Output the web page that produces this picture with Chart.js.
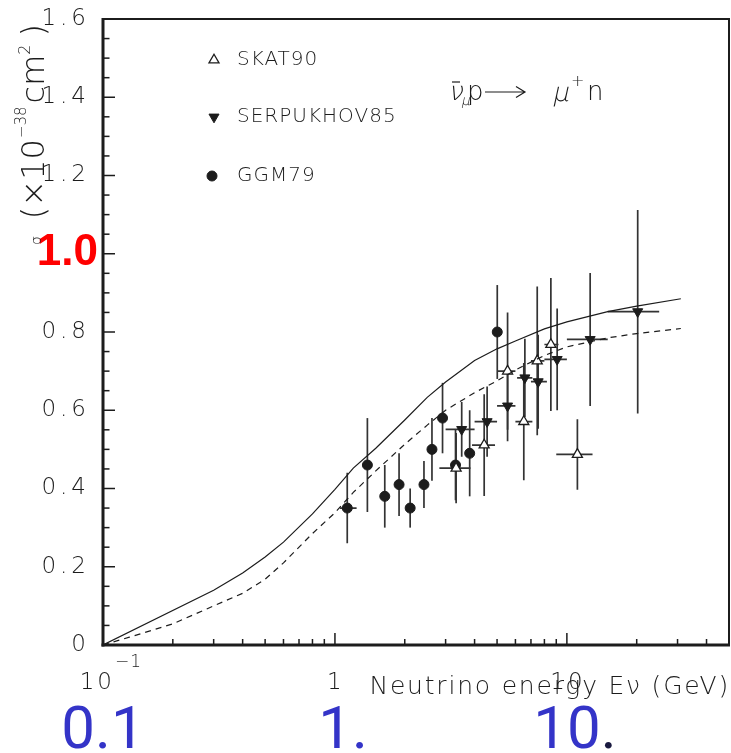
<!DOCTYPE html>
<html>
<head>
<meta charset="utf-8">
<script src="https://cdn.jsdelivr.net/npm/chart.js@4.4.0/dist/chart.umd.min.js"></script>
<style>
  html, body { margin: 0; padding: 0; background: #ffffff; }
  canvas { display: block; }
</style>
</head>
<body>
<canvas id="chart" width="731" height="753"></canvas>
<script>
// Theory curves: cross section vs neutrino energy
const solidE     = [0.1, 0.3, 0.4, 0.5, 0.6, 0.8, 1.0, 1.2, 1.5, 2.0, 2.5, 3.0, 4.0, 5.0, 6.0, 8.0, 10, 15, 20, 31];
const solidSigma = [0.0, 0.14, 0.184, 0.225, 0.263, 0.335, 0.398, 0.452, 0.503, 0.575, 0.633, 0.672, 0.727, 0.757, 0.777, 0.808, 0.826, 0.852, 0.866, 0.885];
const dashedE     = [0.1, 0.13, 0.2, 0.3, 0.4, 0.5, 0.6, 0.8, 1.0, 1.2, 1.5, 2.0, 2.5, 3.0, 4.0, 5.0, 6.0, 8.0, 10, 15, 20, 31];
const dashedSigma = [0.0, 0.02, 0.054, 0.10, 0.132, 0.168, 0.21, 0.285, 0.338, 0.39, 0.445, 0.513, 0.562, 0.60, 0.645, 0.675, 0.703, 0.74, 0.762, 0.785, 0.796, 0.809];

// SKAT90
const skatE     = [3.33, 4.40, 5.55, 6.52, 7.45, 8.53, 11.1];
const skatSigma = [0.452, 0.511, 0.70, 0.571, 0.726, 0.768, 0.487];
const skatErr   = [0.09, 0.13, 0.15, 0.15, 0.19, 0.17, 0.09];
const skatELow  = [2.82, 3.9, 5.0, 6.0, 7.0, 8.0, 9.0];
const skatEHigh = [3.84, 4.9, 6.0, 7.1, 8.0, 9.2, 12.9];

// SERPUKHOV85
const serpE     = [3.52, 4.53, 5.55, 6.59, 7.52, 9.08, 12.6, 20.2];
const serpSigma = [0.551, 0.571, 0.611, 0.683, 0.673, 0.73, 0.781, 0.852];
const serpErr   = [0.07, 0.09, 0.09, 0.10, 0.12, 0.13, 0.17, 0.26];
const serpELow  = [3.0, 4.0, 5.0, 6.1, 7.0, 8.0, 10, 15];
const serpEHigh = [4.0, 5.0, 6.0, 7.1, 8.2, 10, 15, 25];

// GGM79
const ggmE     = [1.13, 1.38, 1.64, 1.89, 2.11, 2.42, 2.62, 2.91, 3.31, 3.81, 5.01];
const ggmSigma = [0.35, 0.46, 0.38, 0.41, 0.35, 0.41, 0.50, 0.58, 0.46, 0.49, 0.80];
const ggmErr   = [0.09, 0.12, 0.08, 0.08, 0.05, 0.06, 0.08, 0.09, 0.09, 0.11, 0.12];
const ggmELow  = [1.05, null, null, null, null, null, null, null, null, null, null];
const ggmEHigh = [1.24, null, null, null, null, null, null, null, null, null, null];

// Axis ranges, ticks and labels
const X_MIN = 0.1, X_MAX = 50, Y_MIN = 0, Y_MAX = 1.6;
const yTickValues = [0, 0.2, 0.4, 0.6, 0.8, 1.0, 1.2, 1.4, 1.6];
const yTickLabels = ['0', '0.2', '0.4', '0.6', '0.8', '1.0', '1.2', '1.4', '1.6'];
const yHighlightLabel = '1.0';
const xDecades = [0.1, 1, 10];
const xTickLabels = [['10', '\u22121'], ['1', ''], ['10', '']];
const xDecimalLabels = [['0.1', ''], ['1.', ''], ['10', '.']];
const legendNames = ['SKAT90', 'SERPUKHOV85', 'GGM79'];

const LIGHT = '"DejaVu Sans", sans-serif';
const INK = '#1c1c1c';

function pts(xs, ys) { return xs.map((x, i) => ({ x: x, y: ys[i] })); }

const errorSets = [
  { e: skatE, s: skatSigma, err: skatErr, lo: skatELow, hi: skatEHigh },
  { e: serpE, s: serpSigma, err: serpErr, lo: serpELow, hi: serpEHigh },
  { e: ggmE,  s: ggmSigma,  err: ggmErr,  lo: ggmELow,  hi: ggmEHigh }
];

const errorBars = {
  id: 'errorBars',
  beforeDatasetsDraw(chart) {
    const { ctx, scales: { x, y } } = chart;
    ctx.save();
    ctx.strokeStyle = '#333333';
    ctx.lineWidth = 1.7;
    errorSets.forEach(set => {
      set.e.forEach((e, i) => {
        const px = x.getPixelForValue(e);
        const py = y.getPixelForValue(set.s[i]);
        ctx.beginPath();
        ctx.moveTo(px, y.getPixelForValue(set.s[i] - set.err[i]));
        ctx.lineTo(px, y.getPixelForValue(set.s[i] + set.err[i]));
        if (set.lo[i] != null) {
          ctx.moveTo(x.getPixelForValue(set.lo[i]), py);
          ctx.lineTo(x.getPixelForValue(set.hi[i]), py);
        }
        ctx.stroke();
      });
    });
    ctx.restore();
  }
};

function spaced(ctx, px) { ctx.letterSpacing = px + 'px'; }

// Slanted text for the reaction label
function slanted(ctx, txt, px, py) {
  ctx.save();
  ctx.translate(px, py);
  ctx.transform(1, 0, -0.22, 1, 0, 0);
  ctx.fillText(txt, 0, 0);
  ctx.restore();
}

const texts = {
  id: 'texts',
  afterDraw(chart) {
    const { ctx, scales: { x, y } } = chart;
    ctx.save();
    ctx.strokeStyle = INK;
    ctx.fillStyle = INK;

    // y tick labels
    ctx.textBaseline = 'middle';
    yTickValues.forEach((v, i) => {
      const py = y.getPixelForValue(v);
      if (yTickLabels[i] === yHighlightLabel) {
        ctx.save();
        ctx.font = 'bold 44px "Liberation Sans", Arial, sans-serif';
        ctx.fillStyle = '#ff0000';
        ctx.textAlign = 'right';
        spaced(ctx, 0);
        ctx.fillText(yTickLabels[i], 98, py - 1);
        ctx.restore();
      } else {
        ctx.font = '200 23px ' + LIGHT;
        ctx.textAlign = 'right';
        spaced(ctx, 4);
        ctx.fillText(yTickLabels[i], 90, py);
      }
    });

    // x tick labels
    ctx.textBaseline = 'alphabetic';
    xDecades.forEach((d, i) => {
      const px = x.getPixelForValue(d);
      const [main, sup] = xTickLabels[i];
      ctx.font = '200 23px ' + LIGHT;
      spaced(ctx, 3);
      if (sup) {
        ctx.textAlign = 'right';
        ctx.fillText(main, px + 12, 689);
        ctx.textAlign = 'left';
        ctx.font = '200 17px ' + LIGHT;
        spaced(ctx, 1);
        ctx.fillText(sup, px + 12, 667);
      } else {
        ctx.textAlign = 'center';
        ctx.fillText(main, px + 1, 689);
      }
    });

    // x axis title
    ctx.font = '200 25px ' + LIGHT;
    ctx.textAlign = 'right';
    spaced(ctx, 1.8);
    ctx.fillText('Neutrino energy E\u03BD (GeV)', 730, 694);

    // decimal axis labels
    ctx.font = '60px Roboto, "Liberation Sans", sans-serif';
    spaced(ctx, 0);
    xDecades.forEach((d, i) => {
      const px = x.getPixelForValue(d);
      const [main, tail] = xDecimalLabels[i];
      const wMain = ctx.measureText(main).width;
      const wTail = tail ? ctx.measureText(tail).width : 0;
      const left = px - (wMain + wTail) / 2 + (i === 0 ? 0 : 8);
      ctx.textAlign = 'left';
      ctx.fillStyle = '#3434c8';
      ctx.fillText(main, left, 748);
      if (tail) {
        ctx.fillStyle = '#1a1a40';
        ctx.fillText(tail, left + wMain, 748);
      }
    });
    ctx.fillStyle = INK;

    // y axis title (rotated)
    ctx.save();
    ctx.translate(44, 0);
    ctx.rotate(-Math.PI / 2);
    ctx.textAlign = 'left';
    ctx.textBaseline = 'alphabetic';
    let cx = -245;
    const seg = (txt, font, sp, dy) => {
      ctx.font = font; spaced(ctx, sp);
      ctx.fillText(txt, cx, dy);
      cx += ctx.measureText(txt).width;
    };
    seg('\u03C3', '200 14px ' + LIGHT, 0, -3);
    cx += 17;
    seg('(\u00D710', '200 32px ' + LIGHT, 0, 0);
    cx += 1;
    seg('\u221238', '200 15px ' + LIGHT, 0, -18);
    cx += 3;
    seg('cm', '200 32px ' + LIGHT, 0, 0);
    seg('2', '200 16px ' + LIGHT, 0, -14);
    cx += 8;
    seg(')', '200 32px ' + LIGHT, 0, 0);
    ctx.restore();

    // legend
    const H = Chart.helpers;
    const legendY = [60, 117, 176];
    const legendStyle = [
      { pointStyle: 'triangle', rotation: 0, radius: 5.8, borderWidth: 1.3, fill: '#ffffff' },
      { pointStyle: 'triangle', rotation: 180, radius: 5.8, borderWidth: 1, fill: INK },
      { pointStyle: 'circle', rotation: 0, radius: 5, borderWidth: 1, fill: INK }
    ];
    legendNames.forEach((name, i) => {
      const st = legendStyle[i];
      ctx.save();
      ctx.fillStyle = st.fill;
      ctx.strokeStyle = INK;
      ctx.lineWidth = st.borderWidth;
      H.drawPoint(ctx, st, i === 2 ? 212 : 214, legendY[i]);
      ctx.restore();
      ctx.font = '200 20px ' + LIGHT;
      spaced(ctx, 1);
      ctx.textAlign = 'left';
      ctx.textBaseline = 'middle';
      ctx.fillText(name, 237, legendY[i]);
    });

    // reaction label
    ctx.textBaseline = 'alphabetic';
    ctx.textAlign = 'left';
    spaced(ctx, 0);
    ctx.font = '200 26px ' + LIGHT;
    slanted(ctx, '\u03BD', 448, 100);
    ctx.lineWidth = 1.2;
    ctx.beginPath(); ctx.moveTo(452, 82); ctx.lineTo(460, 82); ctx.stroke();
    ctx.font = '200 14px ' + LIGHT;
    slanted(ctx, '\u03BC', 461, 105);
    ctx.font = '200 26px ' + LIGHT;
    ctx.fillText('p', 467, 100);
    ctx.beginPath();
    ctx.moveTo(485, 92); ctx.lineTo(524, 92);
    ctx.moveTo(516, 86.5); ctx.lineTo(525, 92); ctx.lineTo(516, 97.5);
    ctx.stroke();
    ctx.font = '200 26px ' + LIGHT;
    slanted(ctx, '\u03BC', 552, 101);
    ctx.font = '200 16px ' + LIGHT;
    ctx.fillText('+', 571, 86);
    ctx.font = '200 26px ' + LIGHT;
    ctx.fillText('n', 587, 100);

    ctx.restore();
  }
};

// Plot frame with inward ticks, placed from the scales; drawn last
const plotFrame = {
  id: 'plotFrame',
  afterDraw(chart) {
    const { ctx, scales: { x, y } } = chart;
    const L = Math.round(x.getPixelForValue(X_MIN));
    const R = Math.round(x.getPixelForValue(X_MAX));
    const B = Math.round(y.getPixelForValue(Y_MIN));
    const T = Math.round(y.getPixelForValue(Y_MAX));
    ctx.save();
    ctx.fillStyle = INK;
    ctx.fillRect(L - 1, T - 1, R - L + 2, 2);       // top
    ctx.fillRect(R - 1, T - 1, 2, B - T + 2);       // right
    ctx.fillRect(L - 1.5, T - 1, 3, B - T + 2.5);   // left
    ctx.fillRect(L - 1.5, B - 1.5, R - L + 2.5, 3); // bottom

    for (let k = 0; k <= 32; k++) {
      const py = y.getPixelForValue(Y_MIN + k * 0.05);
      const len = (k % 4 === 0) ? 12 : 6.5;
      ctx.fillRect(L, py - 0.75, len, 1.5);
    }
    xDecades.forEach(d => {
      for (let m = 1; m <= 9; m++) {
        const v = d * m;
        if (v > X_MAX + 1e-9) break;
        const px = x.getPixelForValue(v);
        const len = (m === 1) ? 12 : 6;
        ctx.fillRect(px - 0.75, B - len, 1.5, len);
      }
    });
    ctx.restore();
  }
};

new Chart(document.getElementById('chart'), {
  type: 'scatter',
  data: {
    datasets: [
      { label: 'solid', data: pts(solidE, solidSigma), showLine: true, borderColor: INK, borderWidth: 1.2, pointRadius: 0, tension: 0 },
      { label: 'dashed', data: pts(dashedE, dashedSigma), showLine: true, borderColor: INK, borderWidth: 1.2, borderDash: [6, 5], pointRadius: 0, tension: 0 },
      { label: legendNames[0], data: pts(skatE, skatSigma), pointStyle: 'triangle', pointRadius: 5.8, backgroundColor: '#ffffff', borderColor: INK, borderWidth: 1.3 },
      { label: legendNames[1], data: pts(serpE, serpSigma), pointStyle: 'triangle', rotation: 180, pointRadius: 5.8, backgroundColor: INK, borderColor: INK, borderWidth: 1 },
      { label: legendNames[2], data: pts(ggmE, ggmSigma), pointStyle: 'circle', pointRadius: 5, backgroundColor: INK, borderColor: INK, borderWidth: 1 }
    ]
  },
  options: {
    responsive: false,
    animation: false,
    devicePixelRatio: 1,
    layout: { autoPadding: false, padding: { left: 103, top: 19, right: 2, bottom: 108 } },
    plugins: { legend: { display: false }, tooltip: { enabled: false } },
    scales: {
      x: { type: 'logarithmic', min: X_MIN, max: X_MAX, display: false },
      y: { type: 'linear', min: Y_MIN, max: Y_MAX, display: false }
    }
  },
  plugins: [errorBars, texts, plotFrame]
});
</script>
</body>
</html>
